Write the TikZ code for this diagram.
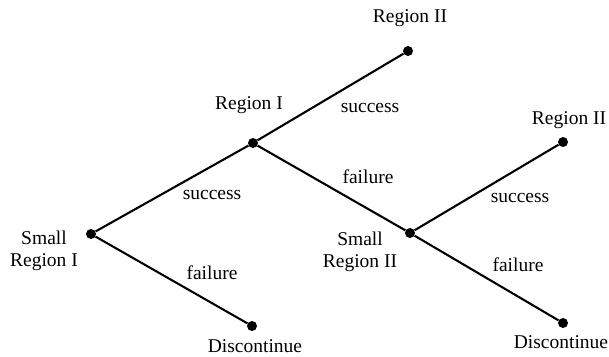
\documentclass[tikz,border=0pt]{standalone}
\usepackage{fontspec}
\setmainfont{Liberation Serif}
\usetikzlibrary{positioning}

\begin{document}
\begin{tikzpicture}[
  x=1pt, y=-1pt, on grid,
  every node/.style={font=\fontsize{19.5}{22}\selectfont},
  dot/.style   ={circle, fill=black, inner sep=0pt, minimum size=10pt},
  lab/.style   ={align=center, inner sep=0pt},
  branch/.style={line width=2.1pt, black},
]
  \useasboundingbox (0,0) rectangle (609,356);
  % decision points
  \node[dot] (sr1)  at (91,234)  {};
  \node[dot] (r1)   at (253,143) {};
  \node[dot] (r2a)  at (408,51)  {};
  \node[dot] (dis1) at (252,326) {};
  \node[dot] (sr2)  at (410,233) {};
  \node[dot] (r2b)  at (563,142) {};
  \node[dot] (dis2) at (563,323) {};
  \foreach \a/\b in {sr1/r1,r1/r2a,sr1/dis1,r1/sr2,sr2/r2b,sr2/dis2}\draw[branch](\a)--(\b);
  % state names
  \node[lab, below left=17pt and 47pt of sr1]  (tsr1){Small\\Region I};
  \node[lab, above left=38pt and 4pt of r1]    (tr1){Region I};
  \node[lab, above right=33pt and 2pt of r2a]  (tr2a){Region II};
  \node[lab, below right=20pt and 3pt of dis1] (tdis1){Discontinue};
  \node[lab, below left=19pt and 50pt of sr2]  (tsr2){Small\\Region II};
  \node[lab, above right=22pt and 6pt of r2b]  (tr2b){Region II};
  \node[lab, below left=19pt and 2pt of dis2]  (tdis2){Discontinue};
  % outcomes
  \node[lab, above right=39pt and 121pt of sr1] (s1){success};
  \node[lab, below right=39pt and 121pt of sr1] (f1){failure};
  \node[lab, above right=35pt and 117pt of r1]  (s2){success};
  \node[lab, above left=56pt and 42pt of sr2]   (f2){failure};
  \node[lab, above right=35pt and 110pt of sr2] (s3){success};
  \node[lab, below right=32pt and 108pt of sr2] (f3){failure};
\end{tikzpicture}
\end{document}
